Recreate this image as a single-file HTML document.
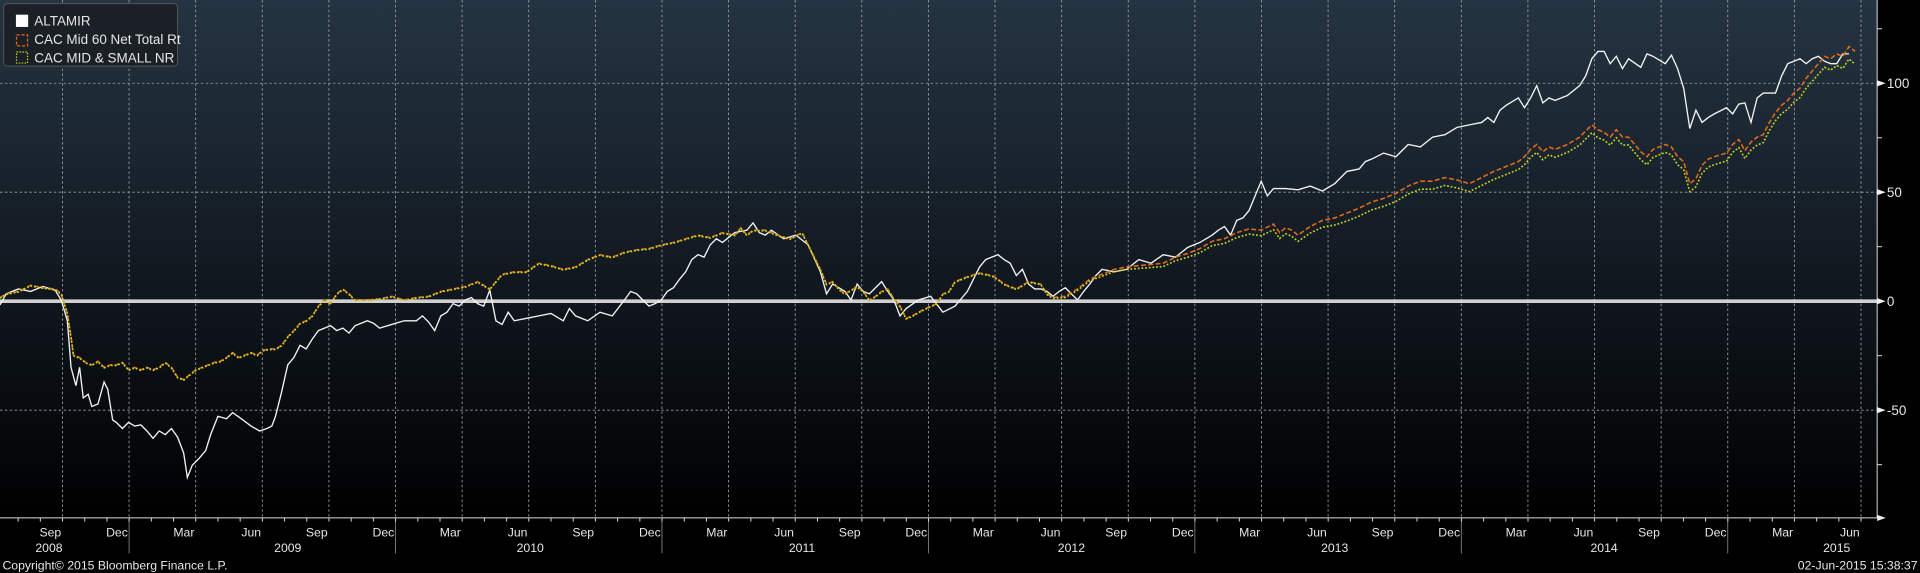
<!DOCTYPE html>
<html><head><meta charset="utf-8"><style>
html,body{margin:0;padding:0;background:#000;overflow:hidden}
svg{display:block}
text{font-family:"Liberation Sans","DejaVu Sans",sans-serif;fill:#e6e6e6}
</style></head><body>
<svg id="c" width="1920" height="573" viewBox="0 0 1568 468" preserveAspectRatio="none" xmlns="http://www.w3.org/2000/svg">
<defs><linearGradient id="bg" x1="0" y1="0" x2="0" y2="1">
<stop offset="0" stop-color="#253442"/><stop offset="0.5" stop-color="#121a22"/><stop offset="1" stop-color="#000"/></linearGradient></defs>
<rect x="0" y="0" width="1568" height="468" fill="#000"/>
<rect x="0" y="0" width="1533" height="423" fill="url(#bg)"/>
<g id="grid"></g>
<line x1="0" y1="246" x2="1533" y2="246" stroke="#d0d0d0" stroke-width="3"/>
<polyline id="pw" fill="none" stroke="#f2f2f2" stroke-width="1.1"/>
<polyline id="po" fill="none" stroke="#e06a1a" stroke-width="1.3" stroke-dasharray="4,2"/>
<polyline id="py" fill="none" stroke="#c8d41e" stroke-width="1.3" stroke-dasharray="1.5,1.5"/>
<g id="axes"></g>
<rect x="3" y="3" width="142" height="51" rx="3" fill="#1b2026" stroke="#555" stroke-width="0.8"/>
<rect x="13" y="12" width="10" height="10" fill="#fff"/>
<rect x="13.5" y="28.5" width="9" height="9" fill="none" stroke="#e06a1a" stroke-dasharray="2.5,1.5"/>
<rect x="13.5" y="42.5" width="9" height="9" fill="none" stroke="#c8d41e" stroke-dasharray="1.2,1.2"/>
<text x="28" y="21" font-size="11">ALTAMIR</text>
<text x="28" y="36" font-size="11">CAC Mid 60 Net Total Rt</text>
<text x="28" y="51" font-size="11">CAC MID &amp; SMALL NR</text>
<text x="2" y="465" font-size="10">Copyright© 2015 Bloomberg Finance L.P.</text>
<text x="1566" y="465" font-size="10" text-anchor="end">02-Jun-2015 15:38:37</text>
</svg>
<script>
var NS="http://www.w3.org/2000/svg";
function el(p,t,a,txt){var e=document.createElementNS(NS,t);for(var k in a)e.setAttribute(k,a[k]);if(txt)e.textContent=txt;p.appendChild(e);return e;}
var g=document.getElementById('grid'),ax=document.getElementById('axes');
var ms=['Sep','Dec','Mar','Jun'];
for(var i=0;i<28;i++){var x=51+54.4*i;
 el(g,'line',{x1:x,y1:0,x2:x,y2:423,stroke:'#9aa0a6','stroke-width':0.7,'stroke-dasharray':'2,2'});
 el(ax,'text',{x:x-1,y:438,'font-size':'10','text-anchor':'end'},ms[i%4]);
 if(i%4==1) el(ax,'line',{x1:x,y1:424,x2:x,y2:452,stroke:'#888','stroke-width':0.7});
}
for(var m=0;m<84;m++){var x=51+54.4*m/3-18.1*2; if(x>0&&x<1533) el(ax,'line',{x1:x,y1:423,x2:x,y2:426,stroke:'#ddd','stroke-width':0.8});}
[68,157,335].forEach(function(y){el(g,'line',{x1:0,y1:y,x2:1533,y2:y,stroke:'#9aa0a6','stroke-width':0.7,'stroke-dasharray':'2,2'});});
el(ax,'line',{x1:1533,y1:0,x2:1533,y2:423,stroke:'#ddd','stroke-width':0.8});
el(ax,'line',{x1:0,y1:423,x2:1533,y2:423,stroke:'#ddd','stroke-width':0.8});
[23.5,112.5,201.5,290.5,379.5].forEach(function(y){el(ax,'line',{x1:1533,y1:y,x2:1537,y2:y,stroke:'#ddd','stroke-width':0.8});});
[[68,'100'],[157,'50'],[246,'0'],[335,'-50']].forEach(function(p){
 el(ax,'path',{d:'M1533 '+(p[0]-2.5)+' L1540 '+p[0]+' L1533 '+(p[0]+2.5)+'Z',fill:'#eee'});
 el(ax,'text',{x:1541,y:p[0]+4,'font-size':'11'},p[1]);});
el(ax,'path',{d:'M1533 420.5 L1540 423 L1533 425.5Z',fill:'#eee'});
[[40,'2008'],[235,'2009'],[433,'2010'],[655,'2011'],[875,'2012'],[1090,'2013'],[1310,'2014'],[1500,'2015']].forEach(function(p){
 el(ax,'text',{x:p[0],y:451,'font-size':'10','text-anchor':'middle'},p[1]);});
var W=[0,249,5,240,15,236,25,238,35,234,45,237,50,245,55,262,58,300,62,315,65,300,68,325,72,322,75,332,80,330,85,312,88,318,92,343,95,345,100,350,105,345,110,348,115,347,120,352,125,358,130,352,135,355,140,350,145,357,150,370,153,390,157,380,162,375,168,368,172,355,178,340,185,342,190,337,197,342,205,348,212,352,218,350,222,348,225,340,230,320,235,298,240,292,245,282,250,285,255,277,260,270,265,268,270,266,275,270,280,268,285,272,290,266,295,264,300,262,305,264,310,268,320,265,330,262,340,262,345,258,350,263,355,270,360,258,365,255,370,248,375,250,380,245,385,243,390,248,395,250,400,237,405,262,410,265,415,255,420,262,430,260,440,258,450,256,460,262,465,252,470,258,480,262,490,255,500,258,510,245,515,238,520,240,525,245,530,250,535,248,540,245,545,238,550,235,555,228,560,222,565,212,570,208,575,210,580,200,585,195,590,198,600,190,610,188,615,182,620,190,625,192,630,188,640,195,650,192,660,200,670,222,675,240,680,232,690,238,695,245,700,232,705,238,710,240,715,235,720,230,725,238,730,245,735,258,740,252,750,245,760,242,770,255,780,250,790,238,800,218,805,212,810,210,815,208,820,212,825,215,830,225,835,220,840,232,845,236,850,236,855,238,860,242,865,238,870,235,875,240,880,245,885,238,890,232,895,225,900,220,910,222,920,220,930,212,940,215,950,208,960,210,970,202,980,198,990,192,995,188,1000,185,1005,192,1010,180,1015,178,1020,172,1025,160,1030,148,1035,160,1040,154,1050,154,1060,155,1070,152,1080,156,1090,150,1095,145,1100,140,1110,138,1115,132,1120,130,1130,125,1140,128,1150,118,1160,120,1170,112,1180,110,1190,104,1200,102,1210,100,1215,96,1220,100,1225,90,1230,86,1240,80,1245,88,1250,80,1255,70,1260,84,1265,80,1270,82,1280,78,1290,70,1295,62,1300,48,1305,42,1310,42,1315,52,1320,46,1325,56,1330,48,1340,55,1345,44,1350,46,1360,52,1365,45,1370,56,1375,72,1380,105,1385,90,1390,100,1395,96,1400,93,1410,88,1415,93,1420,85,1425,84,1430,100,1435,80,1440,76,1450,76,1455,62,1460,52,1465,50,1470,48,1475,52,1480,48,1485,46,1490,50,1495,52,1500,52,1505,44,1510,44];
var O=[0,243,5,240,15,238,25,233,35,235,45,236,50,240,55,256,58,275,60,290,65,292,70,296,75,298,80,295,85,300,90,298,95,298,100,296,105,302,110,300,115,302,120,300,125,302,130,300,135,296,140,300,145,308,150,310,155,306,160,302,165,300,170,298,175,296,180,295,185,292,190,288,195,292,200,290,205,288,210,290,215,286,220,285,225,285,230,282,235,275,240,270,245,264,250,262,255,258,260,250,265,245,270,248,275,240,280,236,285,240,290,245,300,245,310,244,320,242,330,245,340,243,350,242,360,238,370,236,380,234,390,230,400,236,410,224,420,222,430,222,440,215,450,217,460,220,470,218,480,212,490,208,500,210,510,206,520,204,530,203,540,200,550,198,560,195,570,192,580,194,590,190,600,192,605,186,610,192,615,188,625,188,635,192,645,195,655,190,665,210,670,220,675,232,680,230,685,236,690,240,700,234,705,238,710,245,715,242,720,238,725,236,730,244,735,250,740,260,745,258,750,255,760,250,765,248,770,240,775,238,780,230,790,226,800,223,810,225,815,228,820,232,825,234,830,236,840,230,850,232,855,240,860,243,870,242,880,236,890,228,900,224,910,220,920,218,930,217,940,216,950,215,960,210,970,207,980,203,990,197,1000,195,1010,190,1020,187,1030,188,1040,183,1045,190,1050,186,1055,188,1060,192,1070,185,1080,180,1090,178,1100,174,1110,170,1120,165,1130,162,1140,158,1150,152,1160,148,1170,148,1180,145,1190,147,1200,150,1210,145,1220,140,1230,136,1240,132,1245,128,1250,122,1255,118,1260,124,1265,120,1270,122,1280,118,1290,112,1300,102,1305,106,1310,108,1315,112,1320,106,1325,112,1330,112,1340,124,1345,128,1350,122,1360,118,1365,120,1370,128,1375,132,1380,150,1385,146,1390,135,1395,130,1400,128,1410,125,1415,118,1420,114,1425,123,1430,116,1435,112,1440,110,1445,100,1450,92,1455,86,1460,82,1465,76,1470,72,1475,64,1480,58,1485,52,1490,46,1495,48,1500,44,1505,46,1510,38,1515,42];
function pts(a,f){var s=[];for(var i=0;i<a.length;i+=2)s.push(a[i]+','+(a[i+1]+(f?f(a[i]):0)));return s.join(' ');}
function off(x){if(x<850)return 0.5;if(x<1100)return 0.5+5.5*(x-850)/250;if(x<1450)return 6.5;return 6.5+4*(x-1450)/65;}
document.getElementById('pw').setAttribute('points',pts(W));
document.getElementById('po').setAttribute('points',pts(O));
document.getElementById('py').setAttribute('points',pts(O,off));
</script>
</body></html>
